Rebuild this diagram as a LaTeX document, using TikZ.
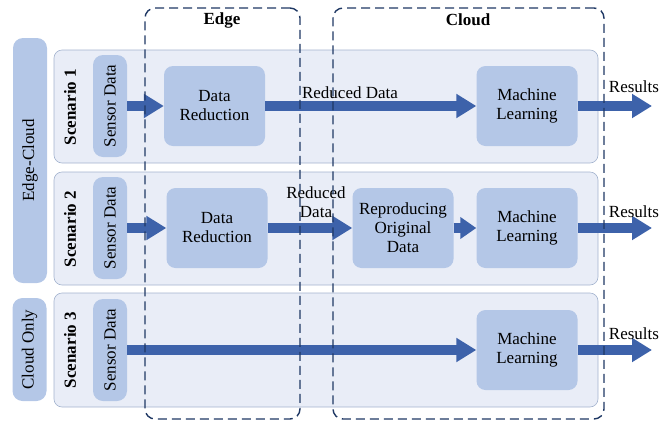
\documentclass[tikz,border=0pt]{standalone}
\usepackage{fontspec}
\setmainfont{Liberation Serif}
\usetikzlibrary{arrows.meta}
\definecolor{pillc}{HTML}{B4C7E7}
\definecolor{rowbg}{HTML}{E9EDF7}
\definecolor{rowline}{HTML}{A3B3CE}
\definecolor{arrc}{HTML}{3D62AA}
\definecolor{dashc}{HTML}{1F3864}
\begin{document}
\begin{tikzpicture}[x=1pt,y=-1pt,
  every node/.style={font=\fontsize{17}{19}\selectfont, inner sep=0pt},
  rowbox/.style={draw=rowline, line width=0.6pt, fill=rowbg, rounded corners=8pt, minimum width=544pt},
  pill/.style={fill=pillc, rounded corners=10pt, minimum width=34pt},
  procbox/.style={fill=pillc, rounded corners=9pt, minimum width=101pt, minimum height=80pt, align=center},
  bigarrow/.style={draw=arrc, line width=10pt, -{Triangle[length=20pt,width=23pt]}},
  zonebox/.style={draw=dashc, line width=1.4pt, dash pattern=on 9pt off 5pt, rounded corners=10pt},
  lbl/.style={align=center}]
\useasboundingbox (0,0) rectangle (670,421);
% rows
\node[rowbox, minimum height=113pt] (row1) at (326,106.5) {};
\node[rowbox, minimum height=113pt] (row2) at (326,228.5) {};
\node[rowbox, minimum height=114pt] (row3) at (326,350) {};
% left pills
\node[pill, minimum height=245pt] (ec) at (30,160.5) {\rotatebox{90}{Edge-Cloud}};
\node[pill, minimum height=103pt] (co) at (29.5,349.5) {\rotatebox{90}{Cloud Only}};
% scenario labels
\node (s1) at (70,107) {\rotatebox{90}{\bfseries Scenario 1}};
\node (s2) at (70,229) {\rotatebox{90}{\bfseries Scenario 2}};
\node (s3) at (70,350) {\rotatebox{90}{\bfseries Scenario 3}};
% sensor pills
\node[pill, minimum height=102pt] (sd1) at (110,106) {\rotatebox{90}{Sensor Data}};
\node[pill, minimum height=102pt] (sd2) at (110,228) {\rotatebox{90}{Sensor Data}};
\node[pill, minimum height=102pt] (sd3) at (110,350) {\rotatebox{90}{Sensor Data}};
% process boxes
\node[procbox] (dr1) at (214.5,106) {Data\\Reduction};
\node[procbox] (ml1) at (527,106) {Machine\\Learning};
\node[procbox] (dr2) at (217,228) {Data\\Reduction};
\node[procbox] (rod) at (403,228) {Reproducing\\Original\\Data};
\node[procbox] (ml2) at (527,228) {Machine\\Learning};
\node[procbox] (ml3) at (527,350) {Machine\\Learning};
% result end points
\coordinate (r1) at (652,106);
\coordinate (r2) at (652,228);
\coordinate (r3) at (652,350);
% arrows
\draw[bigarrow] (sd1.east) -- (dr1.west);
\draw[bigarrow] (dr1.east) -- (ml1.west);
\draw[bigarrow] (ml1.east) -- (r1);
\draw[bigarrow] (sd2.east) -- (dr2.west);
\draw[bigarrow] (dr2.east) -- (rod.west);
\draw[bigarrow, -{Triangle[length=16pt,width=21pt]}] (rod.east) -- (ml2.west);
\draw[bigarrow] (ml2.east) -- (r2);
\draw[bigarrow] (sd3.east) -- (ml3.west);
\draw[bigarrow] (ml3.east) -- (r3);
% labels
\node (rd1) at (350,93) {Reduced Data};
\node[lbl] (rd2) at (316,202) {Reduced\\Data};
\node (res1) at (634,87) {Results};
\node (res2) at (634,212) {Results};
\node (res3) at (634,334) {Results};
% zones
\node[zonebox, minimum width=155pt, minimum height=411pt] (edge) at (222.5,213.5) {};
\node[zonebox, minimum width=271pt, minimum height=411pt] (cloud) at (468.5,213.5) {};
\node[font=\fontsize{17}{19}\selectfont\bfseries] (edgelbl) at (222,20) {Edge};
\node[font=\fontsize{17}{19}\selectfont\bfseries] (cloudlbl) at (468,20) {Cloud};
\end{tikzpicture}
\end{document}
